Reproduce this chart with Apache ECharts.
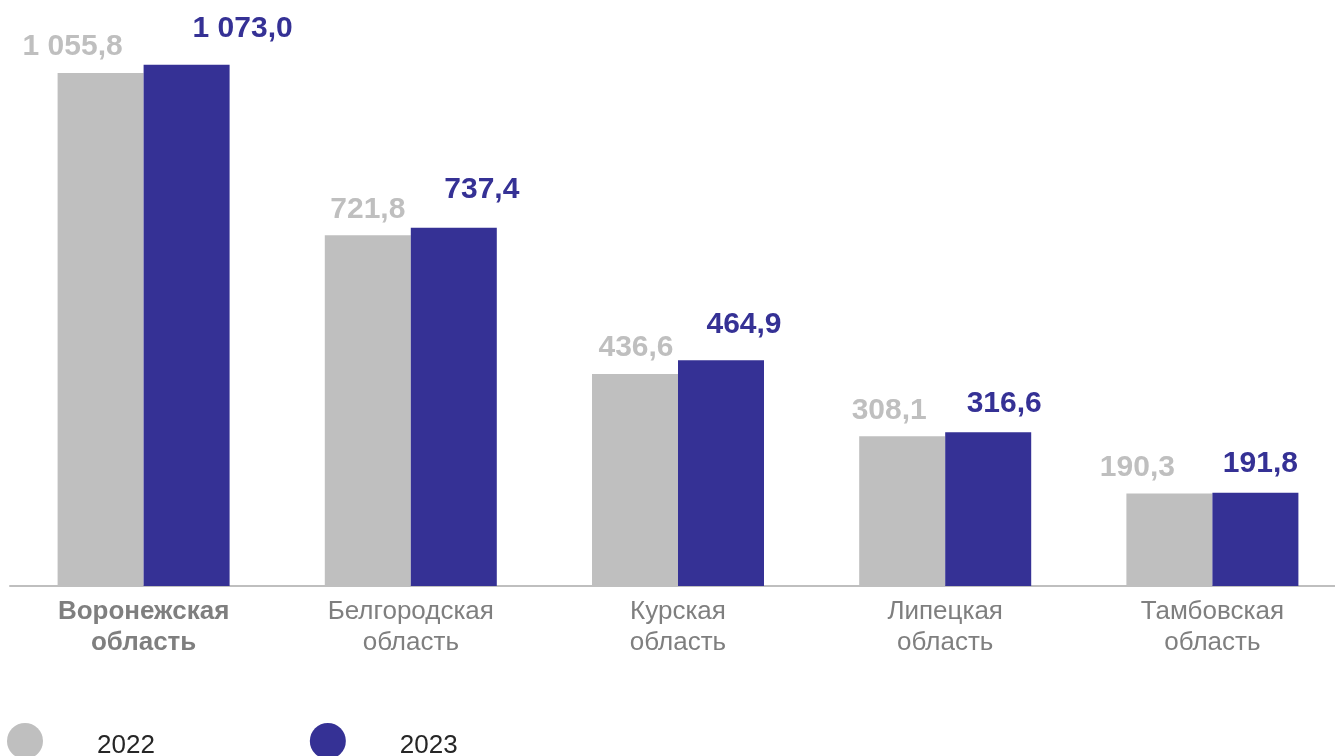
<!DOCTYPE html>
<html>
<head>
<meta charset="utf-8">
<script src="https://cdn.jsdelivr.net/npm/echarts@6/dist/echarts.min.js"></script>
<style>html,body{margin:0;padding:0;background:#fff;overflow:hidden}#c{width:1346px;height:756px}</style>
</head>
<body>
<div id="c"></div>
<script>
const categories = ['Воронежская\nобласть', 'Белгородская\nобласть', 'Курская\nобласть', 'Липецкая\nобласть', 'Тамбовская\nобласть'];
const seriesNames = ['2022', '2023'];
const values2022 = [1055.8, 721.8, 436.6, 308.1, 190.3];
const values2023 = [1073.0, 737.4, 464.9, 316.6, 191.8];

// layout only: label offsets [dx, dy] per bar
const labelOffsets2022 = [[-28, -8], [0, -8], [1, -8], [-13, -8], [-32, -8]];
const labelOffsets2023 = [[56, -18], [28, -20], [23, -17], [16, -10], [5, -11]];

const GREY = '#bfbfbf';
const BLUE = '#353195';
const FONT = '"Liberation Sans", Arial, sans-serif';

function fmt(v) {
  const s = v.toFixed(1).split('.');
  const int = s[0].replace(/\B(?=(\d{3})+(?!\d))/g, ' ');
  return int + ',' + s[1];
}

function makeData(vals, offs) {
  return vals.map((v, i) => ({ value: v, label: { offset: offs[i] } }));
}

const chart = echarts.init(document.getElementById('c'));
chart.setOption({
  animation: false,
  textStyle: { fontFamily: FONT },
  grid: { left: 10, right: 0, top: 3, bottom: 170, containLabel: false },
  legend: {
    left: 7, top: 723, padding: 0,
    itemWidth: 36, itemHeight: 36, itemGap: 155,
    icon: 'circle',
    data: seriesNames,
    formatter: name => '{t|' + name + '}',
    textStyle: {
      fontSize: 26, color: '#262626', fontFamily: FONT,
      rich: { t: { fontSize: 26, color: '#262626', fontFamily: FONT, padding: [10, 0, 0, 49] } }
    }
  },
  xAxis: {
    type: 'category',
    data: categories,
    axisLine: { lineStyle: { color: GREY, width: 2 } },
    axisTick: { show: false },
    axisLabel: {
      margin: 10,
      interval: 0,
      color: '#7f7f7f',
      fontSize: 26,
      lineHeight: 31,
      fontFamily: FONT,
      formatter: (v, i) => i === 0 ? v.split('\n').map(t => '{b|' + t + '}').join('\n') : v,
      rich: { b: { fontWeight: 'bold', fontSize: 26, lineHeight: 31, color: '#7f7f7f', fontFamily: FONT } }
    }
  },
  yAxis: { type: 'value', min: 0, max: 1200, show: false, splitLine: { show: false } },
  series: [
    {
      name: seriesNames[0], type: 'bar', barWidth: 86, barGap: '0%',
      itemStyle: { color: GREY },
      label: { show: true, position: 'top', distance: 3, color: GREY, fontWeight: 'bold', fontSize: 30, fontFamily: FONT, formatter: p => fmt(p.value) },
      data: makeData(values2022, labelOffsets2022)
    },
    {
      name: seriesNames[1], type: 'bar', barWidth: 86, barGap: '0%',
      itemStyle: { color: BLUE },
      label: { show: true, position: 'top', distance: 3, color: BLUE, fontWeight: 'bold', fontSize: 30, fontFamily: FONT, formatter: p => fmt(p.value) },
      data: makeData(values2023, labelOffsets2023)
    }
  ]
});
</script>
</body>
</html>
